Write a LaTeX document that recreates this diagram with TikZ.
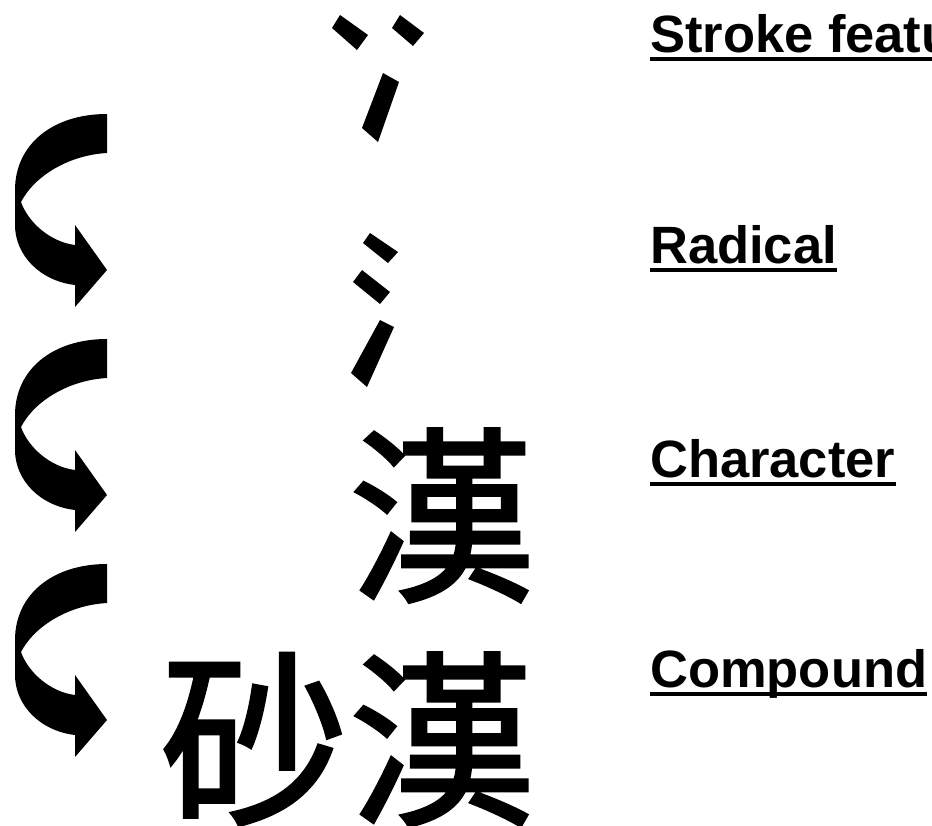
\documentclass[tikz,border=0pt]{standalone}
\usepackage{fontspec}
\setmainfont{Liberation Sans}
\newfontfamily\cjk[FakeBold=1.6]{Noto Sans CJK TC}
\tikzset{
  label/.style={anchor=base west, inner sep=0pt, font=\bfseries\fontsize{52.5}{60}\selectfont},
  hanzi/.style={anchor=base west, inner sep=0pt, font=\cjk\fontsize{188}{200}\selectfont},
  ink/.style={fill=black},
  uline/.style={line width=4pt}
}
\begin{document}
\begin{tikzpicture}[x=1pt,y=-1pt]
\useasboundingbox (0,0) rectangle (932,825);
\clip (0,0) rectangle (932,825);
% curved arrows
\foreach \dy in {0,225,450}{
  \fill[shift={(0,\dy)}] (107,114) .. controls (52,114) and (15,145) .. (15,190) -- (15,225)
     .. controls (15,255) and (40,281) .. (75,285) -- (75,307) -- (107,270) -- (75,225) -- (75,245)
     .. controls (50,242) and (28,222) .. (21,202)
     .. controls (35,175) and (70,155) .. (107,153) -- cycle;
}
% stroke features
\fill[ink] (340,15) -- (368,35) -- (357,50) -- (332,28) -- cycle;
\fill[ink] (400,15) -- (424,33) -- (413,46) -- (392,28) -- cycle;
\fill[ink] (383,73) -- (399,82) -- (378,142) -- (362,128) -- cycle;
% radical
\fill[ink] (370,233) -- (398,252) -- (388,263) -- (363,243) -- cycle;
\fill[ink] (362,270) -- (390,292) -- (380,304) -- (353,282) -- cycle;
\fill[ink] (380,320) -- (394,327) -- (367,387) -- (351,373) -- cycle;
% characters
\node[hanzi] (char) at (348,587) {漢};
\node[hanzi] (comp) at (160,811) {砂漢};
% labels
\node[label] (l1) at (650,52) {Stroke features};
\node[label] (l2) at (650,263) {Radical};
\node[label] (l3) at (650,477) {Character};
\node[label] (l4) at (650,687) {Compound};
\foreach \n in {l1,l2,l3,l4}{
  \draw[uline] ([yshift=-7pt]\n.base west) -- ([yshift=-7pt]\n.base east);
}
\end{tikzpicture}
\end{document}
